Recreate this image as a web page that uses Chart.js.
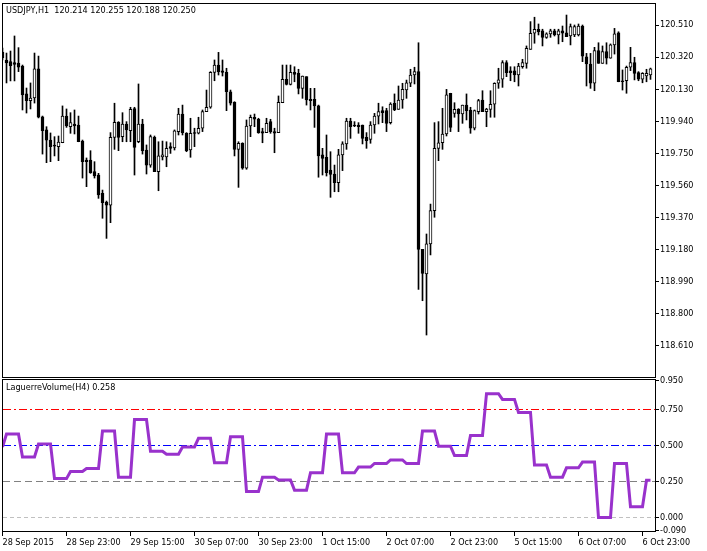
<!DOCTYPE html>
<html>
<head>
<meta charset="utf-8">
<title>USDJPY,H1</title>
<script src="https://cdn.jsdelivr.net/npm/chart.js@4.4.0/dist/chart.umd.min.js"></script>
<style>
  html, body { margin: 0; padding: 0; background: #fff; }
  #wrap { position: relative; width: 707px; height: 551px; overflow: hidden; }
  canvas { position: absolute; left: 0; }
  #price-chart { top: 0; }
  #lag-chart { top: 370px; }
  .caption {
    position: absolute; left: 6px; color: #000; white-space: pre;
    font: 9px "DejaVu Sans Condensed", "DejaVu Sans", sans-serif;
  }
</style>
</head>
<body>
<div id="wrap">
  <canvas id="price-chart" width="707" height="380"></canvas>
  <canvas id="lag-chart" width="707" height="181"></canvas>
  <div class="caption" id="price-caption" style="top:5px"></div>
  <div class="caption" id="lag-caption" style="top:382px"></div>
</div>
<script>
// USDJPY H1 candles, 28 Sep - 7 Oct 2015, LaguerreVolume(H4) below

const symbol = "USDJPY,H1";
const indicatorName = "LaguerreVolume(H4)";

const openP = [
  120.350, 120.303, 120.293, 120.287, 120.285, 120.267, 120.102, 120.062, 120.078, 120.250,
  119.967, 119.889, 119.829, 119.795, 119.790, 119.813, 119.971, 119.908, 119.924, 119.918,
  119.823, 119.711, 119.711, 119.642, 119.622, 119.514, 119.462, 119.444, 119.845, 119.934,
  119.849, 119.924, 119.884, 120.015, 119.819, 119.924, 119.770, 119.681, 119.845, 119.642,
  119.729, 119.729, 119.790, 119.782, 119.879, 119.983, 119.869, 119.770, 119.869, 119.869,
  119.899, 119.997, 120.023, 120.230, 120.273, 120.238, 120.230, 120.115, 120.053, 119.774,
  119.810, 119.662, 119.912, 119.964, 119.952, 119.879, 119.873, 119.938, 119.879, 119.873,
  120.050, 120.189, 120.159, 120.230, 120.224, 120.135, 120.204, 120.070, 120.070, 120.031,
  119.741, 119.727, 119.652, 119.628, 119.577, 119.741, 119.806, 119.942, 119.912, 119.918,
  119.918, 119.845, 119.833, 119.918, 119.971, 120.003, 120.003, 119.932, 120.047, 120.011,
  120.066, 120.125, 120.165, 120.214, 120.234, 119.182, 119.036, 119.214, 119.411, 119.780,
  119.813, 119.865, 120.106, 119.987, 120.011, 119.983, 120.036, 120.007, 119.899, 119.997,
  120.066, 119.997, 120.011, 120.041, 120.165, 120.189, 120.287, 120.238, 120.238, 120.214,
  120.263, 120.283, 120.366, 120.461, 120.485, 120.476, 120.437, 120.457, 120.476, 120.451,
  120.476, 120.464, 120.445, 120.451, 120.451, 120.504, 120.322, 120.279, 120.165, 120.358,
  120.283, 120.352, 120.313, 120.392, 120.464, 120.180, 120.180, 120.260, 120.287, 120.228,
  120.189, 120.208, 120.214
];

const highP = [
  120.374, 120.344, 120.356, 120.445, 120.376, 120.273, 120.137, 120.167, 120.344, 120.326,
  119.971, 119.908, 119.871, 119.849, 119.853, 120.031, 120.013, 119.991, 120.007, 119.971,
  119.829, 119.723, 119.766, 119.701, 119.632, 119.533, 119.468, 119.873, 120.047, 119.938,
  119.991, 119.938, 120.023, 120.023, 120.161, 119.952, 119.800, 119.859, 119.853, 119.819,
  119.823, 119.819, 119.813, 119.889, 120.017, 120.036, 119.873, 119.958, 119.899, 119.964,
  120.007, 120.125, 120.234, 120.303, 120.348, 120.303, 120.254, 120.125, 120.056, 119.819,
  119.813, 119.948, 119.977, 119.983, 119.958, 119.899, 119.958, 119.952, 119.899, 120.090,
  120.273, 120.273, 120.273, 120.263, 120.248, 120.208, 120.204, 120.135, 120.135, 120.036,
  119.780, 119.859, 119.760, 119.681, 119.774, 119.819, 119.958, 119.958, 119.938, 119.932,
  119.918, 119.873, 119.938, 119.987, 120.047, 120.026, 120.017, 120.050, 120.102, 120.149,
  120.165, 120.184, 120.248, 120.260, 120.405, 119.182, 119.273, 119.450, 119.932, 119.938,
  120.017, 120.129, 120.106, 120.050, 120.015, 120.036, 120.102, 120.023, 120.007, 120.070,
  120.121, 120.017, 120.121, 120.168, 120.254, 120.299, 120.299, 120.263, 120.263, 120.283,
  120.307, 120.386, 120.530, 120.556, 120.516, 120.485, 120.464, 120.485, 120.485, 120.485,
  120.504, 120.569, 120.516, 120.510, 120.516, 120.510, 120.342, 120.342, 120.378, 120.405,
  120.386, 120.405, 120.398, 120.490, 120.470, 120.244, 120.267, 120.378, 120.319, 120.234,
  120.228, 120.248, 120.255
];

const lowP = [
  120.303, 120.167, 120.179, 120.179, 120.234, 120.007, 119.989, 120.013, 120.048, 119.960,
  119.746, 119.695, 119.701, 119.735, 119.707, 119.813, 119.904, 119.869, 119.865, 119.819,
  119.604, 119.553, 119.632, 119.604, 119.484, 119.366, 119.247, 119.340, 119.774, 119.766,
  119.819, 119.819, 119.819, 119.622, 119.813, 119.746, 119.628, 119.668, 119.642, 119.529,
  119.711, 119.671, 119.750, 119.770, 119.859, 119.859, 119.760, 119.727, 119.790, 119.865,
  119.879, 119.997, 120.017, 120.180, 120.214, 120.208, 120.003, 120.036, 119.735, 119.549,
  119.656, 119.656, 119.849, 119.908, 119.869, 119.813, 119.873, 119.869, 119.754, 119.873,
  120.050, 120.155, 120.155, 120.174, 120.102, 120.076, 120.036, 120.007, 119.904, 119.609,
  119.622, 119.616, 119.490, 119.523, 119.523, 119.648, 119.774, 119.839, 119.908, 119.869,
  119.806, 119.780, 119.810, 119.869, 119.924, 119.932, 119.879, 119.924, 120.003, 120.011,
  120.017, 120.076, 120.145, 120.161, 118.945, 118.878, 118.675, 119.149, 119.372, 119.707,
  119.774, 119.853, 119.879, 119.964, 119.879, 119.928, 119.948, 119.869, 119.889, 119.983,
  119.997, 119.908, 119.964, 119.964, 120.135, 120.141, 120.204, 120.180, 120.174, 120.149,
  120.254, 120.254, 120.366, 120.402, 120.451, 120.386, 120.431, 120.437, 120.445, 120.398,
  120.411, 120.441, 120.392, 120.441, 120.445, 120.293, 120.149, 120.135, 120.121, 120.283,
  120.283, 120.279, 120.313, 120.338, 120.174, 120.125, 120.106, 120.240, 120.185, 120.180,
  120.168, 120.174, 120.188
];

const closeP = [
  120.315, 120.285, 120.269, 120.277, 120.261, 120.096, 120.062, 120.078, 120.250, 119.965,
  119.884, 119.829, 119.790, 119.793, 119.817, 119.971, 119.912, 119.932, 119.912, 119.819,
  119.701, 119.701, 119.636, 119.616, 119.504, 119.458, 119.444, 119.845, 119.934, 119.845,
  119.924, 119.889, 120.011, 119.786, 119.924, 119.766, 119.681, 119.849, 119.642, 119.735,
  119.741, 119.780, 119.780, 119.883, 119.983, 119.873, 119.766, 119.869, 119.868, 119.899,
  119.997, 120.023, 120.230, 120.273, 120.234, 120.230, 120.115, 120.047, 119.774, 119.810,
  119.662, 119.912, 119.964, 119.952, 119.873, 119.869, 119.928, 119.879, 119.869, 120.053,
  120.189, 120.159, 120.230, 120.218, 120.135, 120.208, 120.066, 120.062, 120.031, 119.735,
  119.721, 119.636, 119.626, 119.577, 119.741, 119.806, 119.942, 119.908, 119.912, 119.908,
  119.839, 119.825, 119.918, 119.971, 119.997, 119.991, 119.928, 120.042, 120.007, 120.066,
  120.129, 120.168, 120.214, 120.234, 119.182, 119.040, 119.214, 119.411, 119.780, 119.813,
  119.865, 120.096, 119.904, 120.011, 119.983, 120.036, 120.003, 119.899, 120.003, 120.062,
  119.997, 120.013, 120.041, 120.165, 120.185, 120.287, 120.228, 120.228, 120.214, 120.267,
  120.287, 120.372, 120.461, 120.485, 120.470, 120.437, 120.457, 120.476, 120.451, 120.476,
  120.461, 120.441, 120.500, 120.500, 120.504, 120.326, 120.279, 120.165, 120.358, 120.283,
  120.352, 120.313, 120.392, 120.457, 120.174, 120.174, 120.260, 120.287, 120.224, 120.189,
  120.224, 120.224, 120.250
];

// H4 indicator value shown on each H1 bar
const lagVolume = [
  0.49,
  0.58, 0.58, 0.58, 0.58,   0.42, 0.42, 0.42, 0.42,   0.51, 0.51, 0.51, 0.51,
  0.27, 0.27, 0.27, 0.27,   0.32, 0.32, 0.32, 0.32,   0.34, 0.34, 0.34, 0.34,
  0.60, 0.60, 0.60, 0.60,   0.28, 0.28, 0.28, 0.28,   0.68, 0.68, 0.68, 0.68,
  0.46, 0.46, 0.46, 0.46,   0.44, 0.44, 0.44, 0.44,   0.49, 0.49, 0.49, 0.49,
  0.55, 0.55, 0.55, 0.55,   0.38, 0.38, 0.38, 0.38,   0.56, 0.56, 0.56, 0.56,
  0.18, 0.18, 0.18, 0.18,   0.28, 0.28, 0.28, 0.28,   0.26, 0.26, 0.26, 0.26,
  0.19, 0.19, 0.19, 0.19,   0.31, 0.31, 0.31, 0.31,   0.58, 0.58, 0.58, 0.58,
  0.31, 0.31, 0.31, 0.31,   0.35, 0.35, 0.35, 0.35,   0.375, 0.375, 0.375, 0.375,
  0.40, 0.40, 0.40, 0.40,   0.375, 0.375, 0.375, 0.375,   0.60, 0.60, 0.60, 0.60,
  0.495, 0.495, 0.495, 0.495,   0.43, 0.43, 0.43, 0.43,   0.57, 0.57, 0.57, 0.57,
  0.86, 0.86, 0.86, 0.86,   0.82, 0.82, 0.82, 0.82,   0.73, 0.73, 0.73, 0.73,
  0.365, 0.365, 0.365, 0.365,   0.28, 0.28, 0.28, 0.28,   0.345, 0.345, 0.345, 0.345,
  0.385, 0.385, 0.385, 0.385,   0.0, 0.0, 0.0, 0.0,   0.375, 0.375, 0.375, 0.375,
  0.075, 0.075, 0.075, 0.075,
  0.258, 0.258
];

const timeLabels = [
  "28 Sep 2015", "28 Sep 23:00", "29 Sep 15:00", "30 Sep 07:00", "30 Sep 23:00", "1 Oct 15:00",
  "2 Oct 07:00", "2 Oct 23:00", "5 Oct 15:00", "6 Oct 07:00", "6 Oct 23:00"
];
const timeTickBars = [0, 16, 32, 48, 64, 80, 96, 112, 128, 144, 160];

const priceTicks = [120.51, 120.32, 120.13, 119.94, 119.75, 119.56, 119.37, 119.18, 118.99, 118.80, 118.61];
const lagTicks = [0.95, 0.75, 0.5, 0.25, 0, -0.09];
const levelValues = [0.75, 0.5, 0.25, 0];

const fontStack = '"DejaVu Sans Condensed", "DejaVu Sans", sans-serif';
Chart.defaults.font.family = fontStack;
Chart.defaults.font.size = 9;
Chart.defaults.color = "#000";

// 4 px per bar, first bar half hidden behind the frame like in the terminal
const xMin = 0.125;
const xMax = 163.125;

// black box round the plot area
const framePlugin = {
  id: "frame",
  afterDraw(chart) {
    const { ctx, chartArea: a } = chart;
    ctx.save();
    ctx.strokeStyle = "#000";
    ctx.lineWidth = 1;
    ctx.strokeRect(a.left - 0.5, a.top - 0.5, a.right - a.left + 1, a.bottom - a.top + 1);
    ctx.restore();
  },
};

const last = openP.length - 1;
document.getElementById("price-caption").textContent =
  `${symbol}  ${openP[last].toFixed(3)} ${highP[last].toFixed(3)} ${lowP[last].toFixed(3)} ${closeP[last].toFixed(3)}`;
document.getElementById("lag-caption").textContent =
  `${indicatorName} ${lagVolume[last].toFixed(3)}`;

// price panel
new Chart(document.getElementById("price-chart"), {
  type: "bar",
  data: {
    datasets: [
      {
        label: "body",
        data: openP.map((o, i) => ({ x: i, y: [o, closeP[i]] })),
        backgroundColor: (c) => (closeP[c.dataIndex] > openP[c.dataIndex] ? "#fff" : "#000"),
        borderColor: "#000",
        borderWidth: 1,
        borderSkipped: false,
        barThickness: 3,
        maxBarThickness: 3,
        minBarLength: 1,
        order: 0,
      },
      {
        label: "wick",
        data: lowP.map((l, i) => ({ x: i, y: [l, highP[i]] })),
        backgroundColor: "#000",
        borderWidth: 0,
        barThickness: 1,
        maxBarThickness: 1,
        order: 1,
      },
    ],
  },
  options: {
    responsive: false,
    animation: false,
    devicePixelRatio: 1,
    layout: { padding: { left: 3, top: 4, right: 0, bottom: 3 }, autoPadding: false },
    datasets: { bar: { grouped: false, categoryPercentage: 1, barPercentage: 1 } },
    plugins: { legend: { display: false }, tooltip: { enabled: false } },
    scales: {
      x: { type: "linear", display: false, min: xMin, max: xMax, offset: false },
      y: {
        position: "right",
        min: 118.4265,
        max: 120.6343,
        beginAtZero: false,
        afterBuildTicks: (s) => { s.ticks = priceTicks.map((v) => ({ value: v })); },
        afterFit: (s) => { s.width = 52; s.paddingTop = 0; s.paddingBottom = 0; },
        ticks: { padding: 1, callback: (v) => v.toFixed(3) },
        grid: { drawOnChartArea: false, tickLength: 4, color: "#000" },
        border: { display: false },
      },
    },
  },
  plugins: [framePlugin],
});

// indicator panel
const levelStyles = [
  { color: "#ff0000", dash: [8, 3, 2, 3] },
  { color: "#0000ff", dash: [8, 3, 2, 3] },
  { color: "#808080", dash: [7, 4] },
  { color: "#c0c0c0", dash: [4, 3] },
];

new Chart(document.getElementById("lag-chart"), {
  type: "line",
  data: {
    datasets: [
      {
        label: indicatorName,
        data: lagVolume.map((v, i) => ({ x: i, y: v })),
        borderColor: "#9932cc",
        borderWidth: 3,
        pointRadius: 0,
        tension: 0,
        clip: 0,
        order: 0,
      },
      ...levelValues.map((lv, k) => ({
        label: "level " + lv,
        data: [{ x: xMin, y: lv }, { x: xMax, y: lv }],
        borderColor: levelStyles[k].color,
        borderDash: levelStyles[k].dash,
        borderWidth: 1,
        pointRadius: 0,
        clip: 0,
        order: 1,
      })),
    ],
  },
  options: {
    responsive: false,
    animation: false,
    devicePixelRatio: 1,
    layout: { padding: { left: 3, top: 10, right: 0, bottom: 0 }, autoPadding: false },
    plugins: { legend: { display: false }, tooltip: { enabled: false } },
    scales: {
      x: {
        type: "linear",
        min: xMin,
        max: xMax,
        offset: false,
        afterBuildTicks: (s) => { s.ticks = timeTickBars.map((v) => ({ value: v })); },
        afterFit: (s) => { s.height = 20; s.paddingLeft = 0; s.paddingRight = 0; },
        ticks: {
          autoSkip: false,
          maxRotation: 0,
          align: "start",
          padding: 1,
          callback: (v) => timeLabels[timeTickBars.indexOf(v)],
        },
        grid: { drawOnChartArea: false, tickLength: 5, color: "#000" },
        border: { display: false },
      },
      y: {
        position: "right",
        // 144 px per unit, panel 151 px tall
        min: -0.0938,
        max: 0.9549,
        afterBuildTicks: (s) => { s.ticks = lagTicks.map((v) => ({ value: v })); },
        afterFit: (s) => { s.width = 52; s.paddingTop = 0; s.paddingBottom = 0; },
        ticks: { padding: 1, callback: (v) => v.toFixed(3) },
        grid: { drawOnChartArea: false, tickLength: 4, color: "#000" },
        border: { display: false },
      },
    },
  },
  plugins: [framePlugin],
});
</script>
</body>
</html>
